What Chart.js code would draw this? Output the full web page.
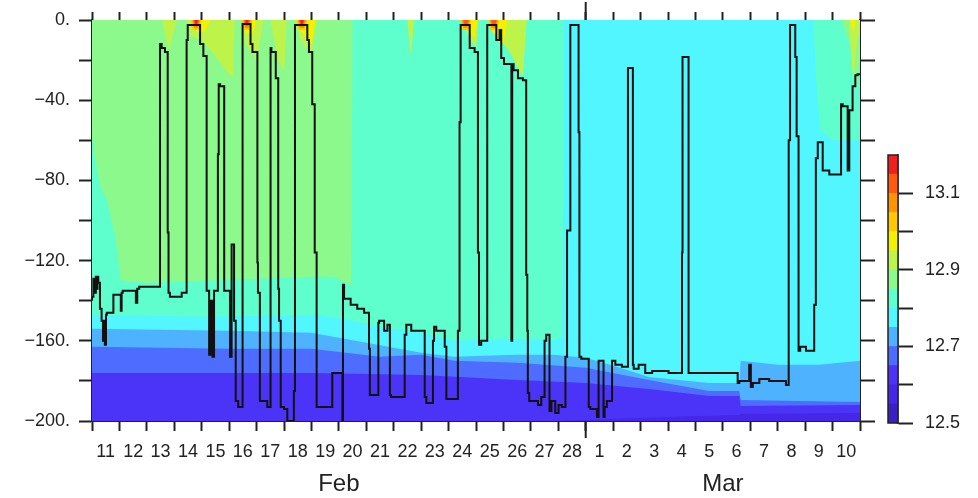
<!DOCTYPE html>
<html>
<head>
<meta charset="utf-8">
<script src="https://cdn.jsdelivr.net/npm/chart.js@4.4.1/dist/chart.umd.min.js"></script>
<style>
  html, body { margin: 0; padding: 0; background: #fff; }
  #wrap { position: relative; width: 978px; height: 498px; }
  #main { position: absolute; left: 0; top: 0; }
  #bar { position: absolute; left: 880px; top: 0; }
</style>
</head>
<body>
<div id="wrap">
  <canvas id="main" width="880" height="498"></canvas>
  <canvas id="bar" width="98" height="498"></canvas>
</div>
<script>
// axis labels
const dayLabels = ['11','12','13','14','15','16','17','18','19','20','21','22','23','24','25','26','27','28',
                   '1','2','3','4','5','6','7','8','9','10'];
const monthLabels = ['Feb', 'Mar'];
const monthCenters = [9, 23];
const monthStarts = [18];
const yTickValues = [0, -40, -80, -120, -160, -200];
const yTickLabels = ['0.', '\u221240.', '\u221280.', '\u2212120.', '\u2212160.', '\u2212200.'];

// colour scale
const cbLevels = [12.5, 12.55, 12.6, 12.65, 12.7, 12.75, 12.8, 12.85, 12.9, 12.95, 13.0, 13.05, 13.1, 13.15, 13.2];
const cbColors = ['#3a1fc4', '#4626e8', '#4b33f7', '#4e6cff', '#4fb2ff', '#52f6ff', '#5effcc',
                  '#8cf98c', '#bef44a', '#f2f200', '#ffc800', '#ff9300', '#ff5a10', '#f02020'];
const cbTicks = [12.5, 12.6, 12.7, 12.8, 12.9, 13.0, 13.1];
const cbTickLabels = ['12.5', '12.7', '12.9', '13.1'];

// mixed layer depth (day since Feb 11, depth m)
const mldDay = [0.00,0.05,0.11,0.14,0.17,0.20,0.23,0.29,0.35,0.40,0.44,0.47,0.51,0.54,0.78,0.84,1.05,1.08,1.12,1.60,
  1.65,1.72,2.48,2.54,2.66,2.76,2.79,2.84,3.27,3.45,3.49,3.63,3.94,4.06,4.18,4.27,4.33,4.39,4.45,4.52,
  4.59,4.62,4.67,4.82,4.86,5.03,5.09,5.18,5.24,5.33,5.42,5.49,5.52,5.78,5.85,6.03,6.05,6.12,6.21,6.39,
  6.45,6.51,6.54,6.70,6.73,6.79,6.82,6.88,7.00,7.12,7.18,7.36,7.40,7.48,7.85,7.91,8.03,8.12,8.19,8.28,
  8.76,8.80,9.13,9.15,9.19,9.43,9.67,9.92,10.10,10.13,10.18,10.44,10.47,10.65,10.77,10.86,10.90,11.40,11.46,11.64,
  11.76,12.13,12.19,12.43,12.47,12.55,12.86,12.92,12.98,13.34,13.40,13.44,13.53,13.77,13.95,14.07,14.11,14.19,14.41,14.46,
  14.74,14.86,14.92,15.02,15.29,15.32,15.37,15.53,15.71,15.83,15.87,15.89,15.94,16.26,16.38,16.50,16.56,16.68,16.75,16.89,
  17.01,17.13,17.26,17.32,17.44,17.56,17.74,17.77,17.84,18.11,18.17,18.41,18.47,18.53,18.65,18.69,18.77,18.96,19.08,19.32,
  19.54,19.59,19.72,19.75,19.93,20.17,20.42,21.02,21.51,21.53,21.61,21.75,21.78,22.46,23.54,23.60,23.66,23.96,24.02,24.09,
  24.33,24.69,25.30,25.40,25.45,25.52,25.64,25.69,25.76,25.82,26.03,26.33,26.39,26.46,26.64,26.70,26.88,27.31,27.37,27.55,
  27.61,27.73,27.83,27.91,28.00];
const mldDepth = [-140,-138,-129,-136,-128,-134,-128,-131,-144,-150,-160,-150,-162,-147,-146,-137,-137,-145,-136,-135,
  -141,-134,-133,-12,-14,-16,-106,-136,-138,-136,-10,-2.5,-2.5,-12,-18,-135,-167,-140,-168,-135,
  -135,-67,-32,-33,-135,-135,-168,-112,-150,-190,-193,-193,-2,-2,-12,-16,-121,-136,-190,-190,
  -193,-193,-14,-16,-29,-29,-134,-150,-193,-194,-200,-200,-185,-2.5,-2.5,-10,-16,-42,-116,-193,
  -193,-176,-176,-200,-132,-139,-142,-144,-146,-164,-187,-187,-151,-150,-155,-152,-187,-188,-157,-152,
  -155,-155,-188,-191,-160,-153,-155,-163,-189,-189,-155,-51,-2.5,-2.5,-14,-16,-116,-162,-160,-2.5,
  -2.5,-10,-5,-19,-22,-160,-22,-25,-29,-30,-127,-155,-186,-190,-192,-188,-160,-157,-195,-190,
  -196,-192,-193,-168,-105,-2.5,-2.5,-56,-168,-169,-193,-194,-198,-170,-170,-198,-193,-190,-170,-172,
  -173,-24,-24,-172,-174,-172,-176,-175,-176,-116,-18.5,-18.5,-176,-176,-176,-181,-180,-180,-172,-183,
  -181,-179,-180,-182,-60,-2.5,-2.5,-18.5,-58,-165,-163,-165,-142,-69,-61,-75,-75,-77,-42,-43,
  -75,-45,-33,-27.5,-27];

// isotherm depths (m) bounding the colour bands
const surfDay = [0, 28];
const surfDepth = [0, 0];
const iso1285Day = [0, 0.1, 0.3, 0.55, 0.85, 1.05, 2, 4, 6, 8, 8.8, 9.1, 9.45, 9.5, 17, 27.3, 27.6, 27.85, 28];
const iso1285Depth = [-58, -68, -83, -90, -108, -130, -131, -130, -129, -128, -128, -130, -132, 0, 0, 0, -10, -35, -20];
const iso1280Day = [0, 4, 8.3, 9.5, 10.5, 12, 13.2, 15.6, 16.8, 17.15, 17.2, 26.3, 26.4, 26.55, 27, 28];
const iso1280Depth = [-147, -148, -147, -150, -153, -156, -160, -159, -160, -158, 0, 0, -30, -55, -60, -60];
const iso1275Day = [0, 5, 8, 10.4, 12, 13.2, 15.5, 16.8, 18, 19.25, 20.3, 22.5, 23.6, 23.65, 25, 26.5, 28];
const iso1275Depth = [-154, -155, -156, -162, -166, -168, -167, -167, -168.5, -173.5, -178, -181, -181, -170, -172, -172, -170];
const iso1270Day = [0, 5, 8, 10.5, 12, 13.2, 15.5, 18, 20.3, 22.5, 23.6, 23.65, 28];
const iso1270Depth = [-163, -164, -164, -168, -167, -170, -171, -173.5, -179.5, -185, -185, -189.5, -190.5];
const iso1265Day = [0, 8, 12, 15.5, 18, 20.3, 22.5, 23.6, 23.65, 28];
const iso1265Depth = [-176, -176, -177, -179.6, -181, -184, -187.5, -187.5, -192.5, -192];
const iso1260Day = [0, 17, 19, 22, 23.6, 23.65, 28];
const iso1260Depth = [-200, -200, -199, -197.5, -197, -196.5, -196];
const iso1290Day = [0, 2.55, 2.8, 3.1, 3.45, 3.6, 4.0, 4.5, 5.0, 5.15, 5.2, 5.45, 5.6, 6.0, 6.2, 6.25, 6.5, 6.8, 7.0, 7.1,
  7.45, 7.6, 8.0, 8.2, 11.5, 11.62, 11.75, 13.5, 13.7, 14.0, 14.1, 14.45, 14.7, 15.2, 15.7, 15.85, 27.6, 27.75, 27.9, 28];
const iso1290Depth = [0, 0, -15, 0, 0, -8, -10, -18, -27, -28, 0, 0, -12, -20, -5, 0, 0, -20, -26, 0,
  0, -10, -17, 0, 0, -18, 0, 0, -8, -14, 0, 0, -8, -15, -28, 0, 0, -30, -10, -5];
const iso1295Day = [0, 3.6, 3.8, 4.1, 4.3, 5.45, 5.6, 5.85, 6.0, 7.4, 7.6, 8.0, 8.15, 13.5, 13.7, 13.95, 14.05,
  14.45, 14.6, 15.0, 15.15, 27.65, 27.75, 27.85];
const iso1295Depth = [0, 0, -6, -6, 0, 0, -6, -7, 0, 0, -5, -12, 0, 0, -5, -9, 0, 0, -6, -12, 0, 0, -6, 0];
const iso1300Day = [0, 3.6, 3.68, 3.92, 4.0, 5.45, 5.53, 5.77, 5.85, 7.45, 7.53, 7.77, 7.85, 13.43, 13.51, 13.75, 13.83,
  14.45, 14.53, 14.77, 14.85, 28];
const iso1300Depth = [0, 0, -5, -5, 0, 0, -5, -5, 0, 0, -5, -5, 0, 0, -5, -5, 0, 0, -5, -5, 0, 0];
const iso1305Day = [0, 3.66, 3.72, 3.88, 3.94, 5.51, 5.57, 5.73, 5.79, 7.51, 7.57, 7.73, 7.79, 13.49, 13.55, 13.71, 13.77,
  14.51, 14.57, 14.73, 14.79, 28];
const iso1305Depth = [0, 0, -4, -4, 0, 0, -4, -4, 0, 0, -4, -4, 0, 0, -4, -4, 0, 0, -4, -4, 0, 0];
const iso1310Day = [0, 3.7, 3.75, 3.85, 3.9, 5.55, 5.6, 5.7, 5.75, 7.55, 7.6, 7.7, 7.75, 13.53, 13.58, 13.68, 13.73,
  14.55, 14.6, 14.7, 14.75, 28];
const iso1310Depth = [0, 0, -3, -3, 0, 0, -3, -3, 0, 0, -3, -3, 0, 0, -3, -3, 0, 0, -3, -3, 0, 0];
const iso1315Day = [0, 3.74, 3.78, 3.82, 3.86, 5.59, 5.63, 5.67, 5.71, 7.59, 7.63, 7.67, 7.71, 28];
const iso1315Depth = [0, 0, -2.5, -2.5, 0, 0, -2.5, -2.5, 0, 0, -2.5, -2.5, 0, 0];

const FONT = 'Liberation Sans, Arial, sans-serif';
const INK = '#222';

function pts(days, depth) {
  return days.map((d, i) => ({ x: d, y: depth[i] }));
}

function band(days, depth, color, fillTo, order) {
  return {
    data: pts(days, depth),
    backgroundColor: color,
    borderWidth: 0,
    pointRadius: 0,
    tension: 0,
    fill: fillTo,
    order: order
  };
}

// longer tick marks at month boundaries
const monthTicks = {
  id: 'monthTicks',
  afterDraw(chart) {
    const { ctx, chartArea, scales } = chart;
    ctx.save();
    ctx.strokeStyle = INK;
    ctx.lineWidth = 2;
    monthStarts.forEach(v => {
      const px = scales.x.getPixelForValue(v);
      ctx.beginPath();
      ctx.moveTo(px, chartArea.top);
      ctx.lineTo(px, chartArea.top - 18);
      ctx.moveTo(px, chartArea.bottom);
      ctx.lineTo(px, chartArea.bottom + 17);
      ctx.stroke();
    });
    ctx.restore();
  }
};

const mainChart = new Chart(document.getElementById('main'), {
  type: 'line',
  data: {
    datasets: [
      {
        data: pts(mldDay, mldDepth),
        borderColor: '#111',
        borderWidth: 2,
        pointRadius: 0,
        stepped: 'after',
        fill: false,
        order: 0
      },
      band(surfDay, surfDepth, cbColors[7], 'start', 30),
      band(iso1285Day, iso1285Depth, cbColors[6], 'start', 29),
      band(iso1280Day, iso1280Depth, cbColors[5], 'start', 28),
      band(iso1275Day, iso1275Depth, cbColors[4], 'start', 27),
      band(iso1270Day, iso1270Depth, cbColors[3], 'start', 26),
      band(iso1265Day, iso1265Depth, cbColors[2], 'start', 25),
      band(iso1260Day, iso1260Depth, cbColors[1], 'start', 24),
      band(iso1290Day, iso1290Depth, cbColors[8], 'end', 23),
      band(iso1295Day, iso1295Depth, cbColors[9], 'end', 22),
      band(iso1300Day, iso1300Depth, cbColors[10], 'end', 21),
      band(iso1305Day, iso1305Depth, cbColors[11], 'end', 20),
      band(iso1310Day, iso1310Depth, cbColors[12], 'end', 19),
      band(iso1315Day, iso1315Depth, cbColors[13], 'end', 18)
    ]
  },
  options: {
    responsive: false,
    animation: false,
    devicePixelRatio: 1,
    layout: { padding: 0 },
    plugins: { legend: { display: false }, tooltip: { enabled: false } },
    scales: {
      x: {
        type: 'linear', position: 'bottom', min: 0, max: 28, weight: 0,
        ticks: { stepSize: 1, autoSkip: false, maxRotation: 0, callback: () => '' },
        grid: { drawOnChartArea: false, tickLength: 10, tickColor: INK, tickWidth: 2 },
        border: { display: true, color: INK, width: 2 },
        afterFit: s => { s.height = 10; }
      },
      xDay: {
        type: 'linear', position: 'bottom', min: 0, max: 28, weight: 1,
        afterBuildTicks: s => { s.ticks = dayLabels.map((_, i) => ({ value: i + 0.5 })); },
        ticks: {
          autoSkip: false, maxRotation: 0, padding: 10, color: INK,
          font: { family: FONT, size: 18 },
          callback: (v, i) => dayLabels[i]
        },
        grid: { display: false, drawTicks: false },
        border: { display: false },
        afterFit: s => { s.height = 30; }
      },
      xMon: {
        type: 'linear', position: 'bottom', min: 0, max: 28, weight: 2,
        afterBuildTicks: s => { s.ticks = monthCenters.map(v => ({ value: v })); },
        ticks: {
          autoSkip: false, maxRotation: 0, padding: 9, color: INK,
          font: { family: FONT, size: 24 },
          callback: (v, i) => monthLabels[i]
        },
        grid: { display: false, drawTicks: false },
        border: { display: false },
        afterFit: s => { s.height = 37; }
      },
      xTop: {
        type: 'linear', position: 'top', min: 0, max: 28,
        ticks: { stepSize: 1, autoSkip: false, maxRotation: 0, callback: () => '' },
        grid: { drawOnChartArea: false, tickLength: 8, tickColor: INK, tickWidth: 2 },
        border: { display: false },
        afterFit: s => { s.height = 20; }
      },
      y: {
        type: 'linear', position: 'left', min: -200, max: 0,
        ticks: {
          stepSize: 20, padding: 9, color: INK,
          font: { family: FONT, size: 18 },
          callback: v => {
            const i = yTickValues.indexOf(v);
            return i >= 0 ? yTickLabels[i] : '';
          }
        },
        grid: { drawOnChartArea: false, tickLength: 13, tickColor: INK, tickWidth: 2 },
        border: { display: true, color: INK, width: 2 },
        afterFit: s => { s.width = 92; }
      },
      yR: {
        type: 'linear', position: 'right', min: -200, max: 0,
        ticks: { stepSize: 20, callback: () => '' },
        grid: { drawOnChartArea: false, tickLength: 15, tickColor: INK, tickWidth: 2 },
        border: { display: true, color: INK, width: 2 },
        afterFit: s => { s.width = 20; }
      }
    }
  },
  plugins: [monthTicks]
});

// colour bar
const outline = {
  id: 'outline',
  afterDatasetsDraw(chart) {
    const { ctx, chartArea } = chart;
    ctx.save();
    ctx.strokeStyle = INK;
    ctx.lineWidth = 1.5;
    ctx.strokeRect(chartArea.left, chartArea.top, chartArea.right - chartArea.left, chartArea.bottom - chartArea.top);
    ctx.restore();
  }
};

const barChart = new Chart(document.getElementById('bar'), {
  type: 'bar',
  data: {
    labels: [''],
    datasets: cbColors.map((c, i) => ({
      data: [[cbLevels[i], cbLevels[i + 1]]],
      backgroundColor: c,
      borderWidth: 0,
      grouped: false,
      barPercentage: 1,
      categoryPercentage: 1
    }))
  },
  options: {
    responsive: false,
    animation: false,
    devicePixelRatio: 1,
    layout: { padding: { left: 8, top: 155, bottom: 75, right: 0 } },
    plugins: { legend: { display: false }, tooltip: { enabled: false } },
    scales: {
      x: { display: false },
      y: {
        position: 'right', min: 12.5, max: 13.2,
        afterBuildTicks: s => { s.ticks = cbTicks.map(v => ({ value: v })); },
        ticks: {
          padding: 12, color: INK,
          font: { family: FONT, size: 18 },
          callback: v => {
            const s = Number(v).toFixed(1);
            return cbTickLabels.includes(s) ? s : '';
          }
        },
        grid: { drawOnChartArea: false, tickLength: 15, tickColor: INK, tickWidth: 2 },
        border: { display: true, color: INK, width: 1.5 },
        afterFit: s => { s.width = 80; }
      }
    }
  },
  plugins: [outline]
});
</script>
</body>
</html>
